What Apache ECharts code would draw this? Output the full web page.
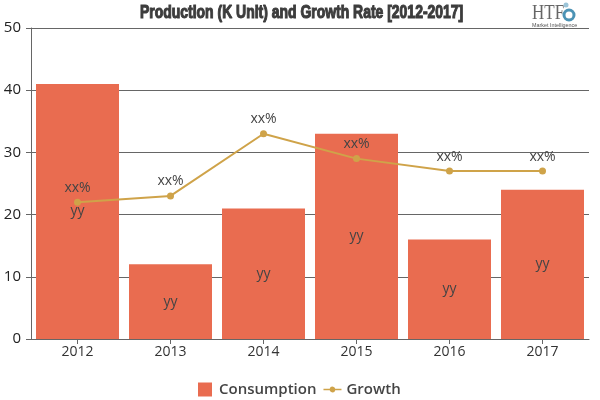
<!DOCTYPE html>
<html>
<head>
<meta charset="utf-8">
<style>html,body{margin:0;padding:0;background:#fff}#chart{width:600px;height:400px}</style>
<script src="https://cdn.jsdelivr.net/npm/echarts@6/dist/echarts.min.js"></script>
</head>
<body>
<div id="chart"></div>
<script>
// data
const years = ["2012","2013","2014","2015","2016","2017"];
const consumption = [41,12,21,33,16,24];
const growth = [22,23,33,29,27,27];
const y_ticks_max = 50;
const title_text = "Production (K Unit) and Growth Rate [2012-2017]";

// legend icons, drawn as paths so the aspect stays fixed
const icon_bar = 'path://M0 0h14v14H0z';
const icon_line = 'path://M0 2.2h6.2a2.9 2.9 0 0 1 5.6 0H18v1.6H11.8a2.9 2.9 0 0 1-5.6 0H0z';

const myChart = echarts.init(document.getElementById('chart'), null, {renderer:'canvas'});
const option = {
    animation: false,
    textStyle: {fontFamily: '"Open Sans"'},
    grid: {left: 31, right: 11, top: 28, bottom: 61},
    legend: {
        data: [{name:'Consumption', icon:icon_bar}, {name:'Growth', icon:icon_line}],
        left: 193,
        top: 377,
        itemWidth: 18,
        itemHeight: 14,
        itemGap: 7,
        textStyle: {fontSize: 15, fontWeight: 600, color: '#444', fontFamily: '"Open Sans"'}
    },
    xAxis: {
        type: 'category',
        data: years,
        axisLine: {lineStyle: {color: '#666', width: 1}},
        axisTick: {show: true, alignWithLabel: true, length: 5, lineStyle: {color: '#666'}},
        axisLabel: {color: '#333', fontSize: 14, margin: 6}
    },
    yAxis: {
        type: 'value',
        min: 0,
        max: y_ticks_max,
        interval: 10,
        axisLine: {show: true, lineStyle: {color: '#666', width: 1}},
        axisTick: {show: true, length: 5, lineStyle: {color: '#666'}},
        axisLabel: {color: '#222', fontSize: 15, margin: 10},
        splitLine: {lineStyle: {color: '#666', width: 1}}
    },
    series: [
        {
            name: 'Consumption',
            type: 'bar',
            data: consumption,
            barWidth: 83,
            itemStyle: {color: '#e96c50'},
            label: {show: true, position: 'inside', formatter: 'yy', fontSize: 14, color: '#444'}
        },
        {
            name: 'Growth',
            type: 'line',
            data: growth,
            symbol: 'circle',
            symbolSize: 7,
            lineStyle: {color: '#cfa349', width: 2},
            itemStyle: {color: '#cfa349'},
            label: {show: true, position: 'top', distance: 4, formatter: 'xx%', fontSize: 14, color: '#444'}
        }
    ],
    graphic: [
        // title is squeezed because no condensed heavy font is installed
        {type:'text', x:140, y:4, scaleX:0.775, style:{text:title_text, fontFamily:'"Liberation Sans"', fontSize:18, fontWeight:'bold', fill:'#3c3c3c', stroke:'#3c3c3c', lineWidth:1.1}},
        {type:'text', x:532, y:4, scaleX:0.85, style:{text:'HTF', fontFamily:'"Liberation Serif"', fontSize:20, fill:'#666'}},
        {type:'circle', shape:{cx:569, cy:15, r:5}, style:{fill:'none', stroke:'#4c93b5', lineWidth:3}},
        {type:'circle', shape:{cx:566, cy:5, r:2.5}, style:{fill:'#9cc4d8'}},
        {type:'text', x:532, y:22, scaleX:0.9, style:{text:'Market Intelligence', fontFamily:'"Liberation Sans"', fontSize:6, fill:'#555'}}
    ]
};
myChart.setOption(option);
</script>
</body>
</html>
